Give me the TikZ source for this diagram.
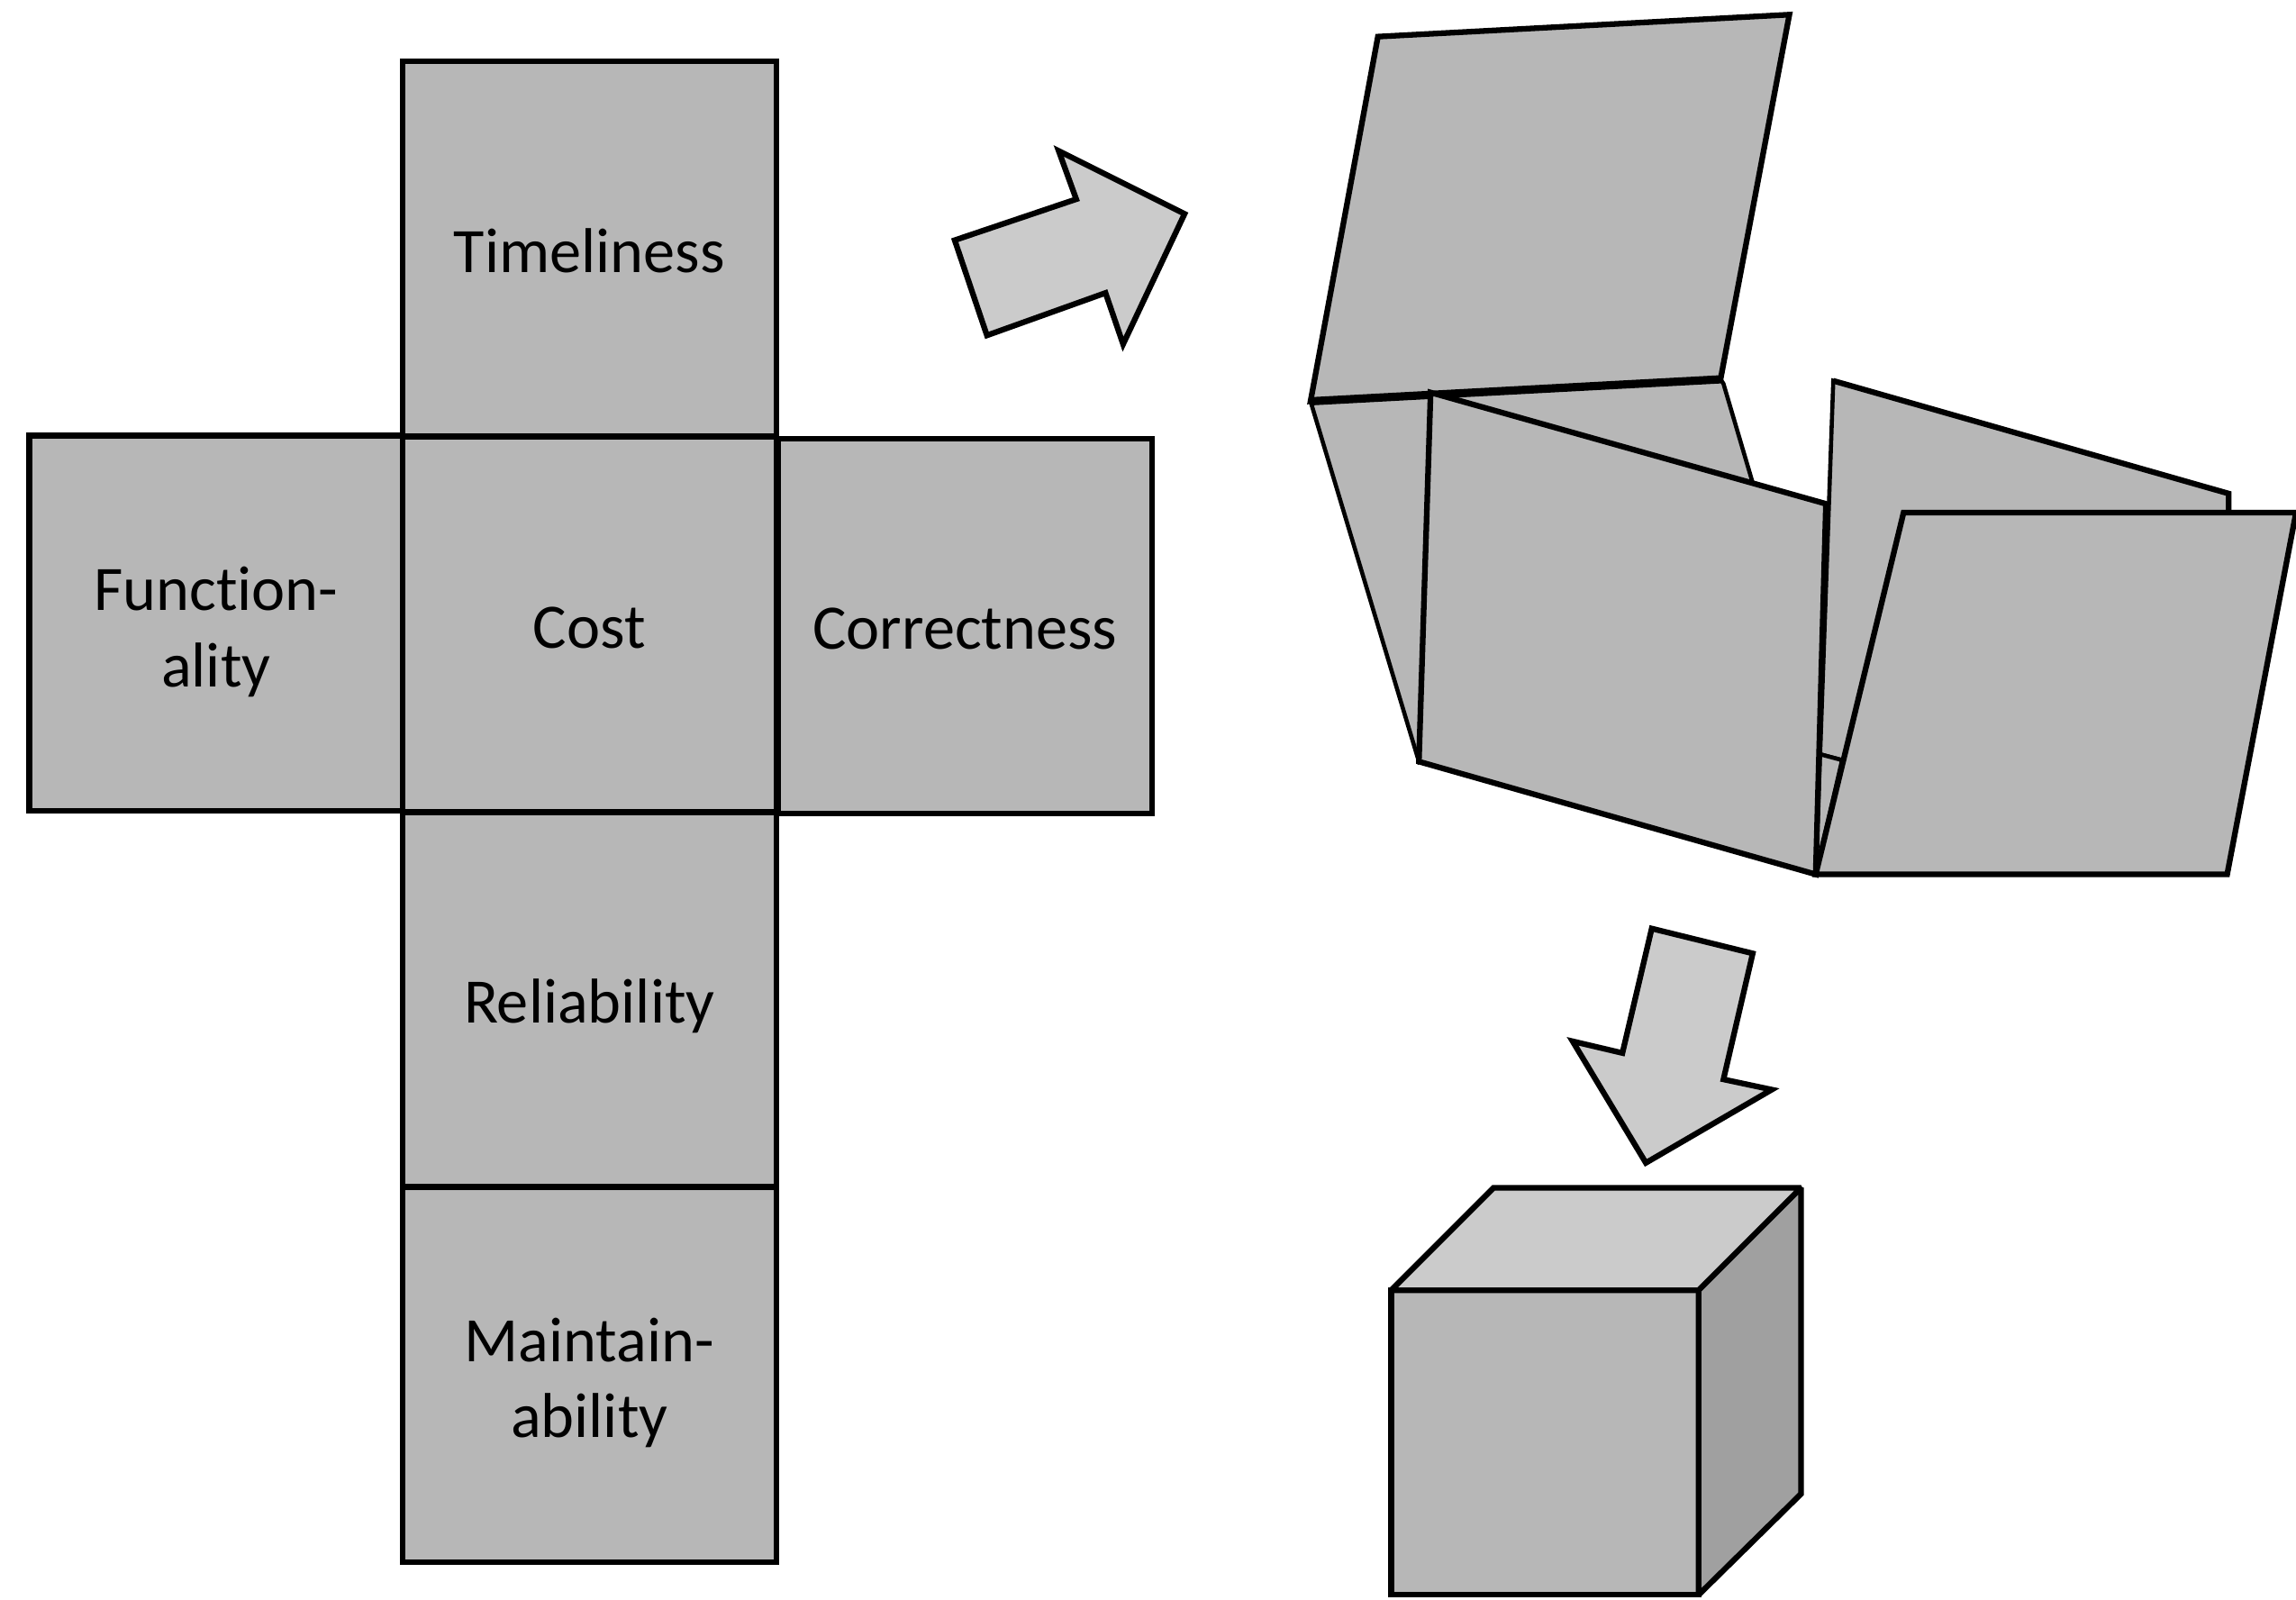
\documentclass[tikz,border=0pt]{standalone}
\usepackage{fontspec}
\setmainfont[Ligatures=CommonOff]{Carlito}
\definecolor{facegray}{HTML}{B7B7B7}
\definecolor{lightgray}{HTML}{CBCBCB}
\definecolor{darkgray}{HTML}{A0A0A0}
\newcommand{\facestrut}{\rule[-2.5pt]{0pt}{14.1pt}}
\newcommand{\tallstrut}{\rule{0pt}{12.3pt}}
\tikzset{
  edge/.style={draw=black,line width=1.1pt,line join=miter},
  thinedge/.style={line width=0.8pt},
  face/.style={edge,fill=facegray},
  cubeface/.style={face,minimum width=2.55cm,minimum height=2.56cm,inner sep=0pt,
    outer sep=0pt,align=center,font=\fontsize{12.3}{14.8}\selectfont,text=black,
    execute at begin node=\facestrut,execute at end node=\facestrut},
  bigarrow/.style={edge,fill=lightgray},
}
\begin{document}
\begin{tikzpicture}[x=0.01cm,y=-0.01cm]

    % Fix the page size
    \useasboundingbox (0,0) rectangle (1568,1092.4);

    % Draw the unfolded net
    \node[cubeface] (timeliness) at (402.5,170) {Timeliness};
    \node[cubeface] (functionality) at (147.5,425.5) {\tallstrut Function-\\ality};
    \node[cubeface] (correctness) at (659,427.5) {Correctness};
    \node[cubeface] (reliability) at (402.5,682.5) {Reliability};
    \node[cubeface] (maintainability) at (402.5,938.5) {\tallstrut Maintain-\\ability};
    \node[cubeface] (cost) at (402.5,426.5) {Cost};

    % Draw the arrow from the net to the open box
    \draw[bigarrow] (652,164) -- (735,136) -- (723,103) -- (809,146)
        -- (767,235) -- (755,200) -- (674,229) -- cycle;

    % Define the corners of the open box
    \coordinate (lidA) at (941,25);
    \coordinate (lidB) at (1222,10);
    \coordinate (lidC) at (1175,259);
    \coordinate (lidD) at (895,274);
    \coordinate (frontA) at (977,268);
    \coordinate (frontB) at (1247,344);
    \coordinate (frontC) at (1240,597);
    \coordinate (frontD) at (969,520);

    % Draw the back and the left side first
    \draw[face,thinedge] (lidD) -- (lidC) -- (1177,262) -- (1200,340) -- (frontD) -- cycle;
    \draw[face,thinedge] (1252,260) -- (1522,337) -- (1522,400) -- (1258,519)
        -- (1243,515) -- cycle;
    \draw[face,thinedge] (1243,515) -- (1258,519) -- (frontC) -- cycle;
    \draw[edge] (1252,260) -- (1522,337) -- (1522,352);

    % Draw the lid and the two front flaps
    \draw[face] (lidA) -- (lidB) -- (lidC) -- (lidD) -- cycle;
    \draw[line width=1.6pt] (lidD) -- (lidC);
    \draw[face] (frontA) -- (frontB) -- (frontC) -- (frontD) -- cycle;
    \draw[face] (1300,350) -- (1568,350) -- (1521,597) -- (frontC) -- cycle;

    % Draw the arrow from the open box to the cube
    \draw[bigarrow] (1128,634) -- (1197,651) -- (1177,737) -- (1210,744)
        -- (1124,794) -- (1074,711) -- (1108,719) -- cycle;

    % Draw the closed cube
    \begin{scope}[miter limit=2]
    \draw[face] (950,881) rectangle (1160,1089);
    \draw[edge,fill=lightgray] (950,881) -- (1020,811) -- (1230,811) -- (1160,881) -- cycle;
    \draw[edge,fill=darkgray] (1160,881) -- (1230,811) -- (1230,1020) -- (1160,1089) -- cycle;
    \end{scope}

\end{tikzpicture}
\end{document}
